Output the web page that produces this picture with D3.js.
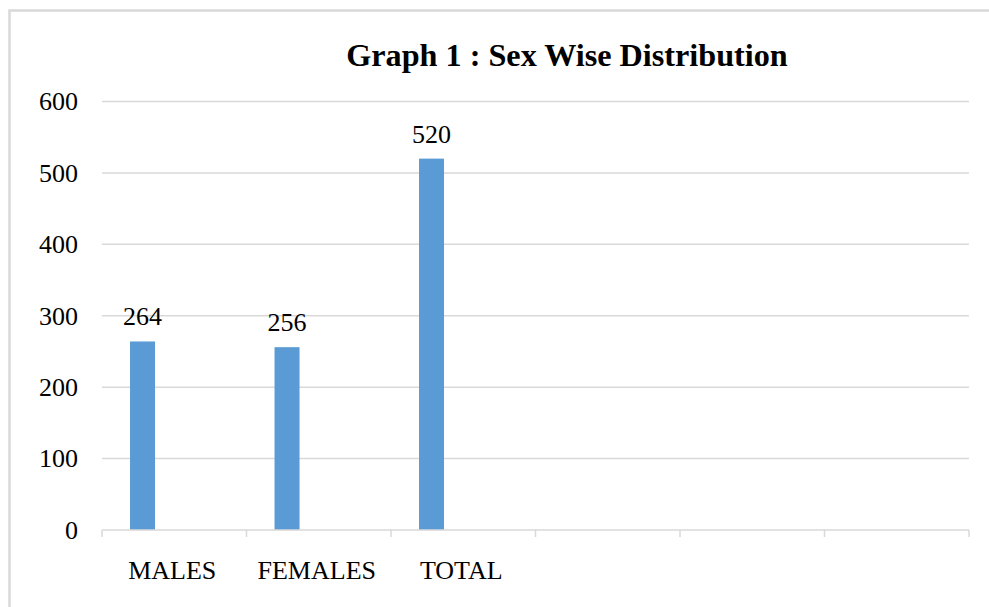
<!DOCTYPE html>
<html>
<head>
<meta charset="utf-8">
<script src="https://cdn.jsdelivr.net/npm/d3@7"></script>
<style>
  html, body { margin: 0; padding: 0; background: #ffffff; }
  svg { display: block; }
  text { font-family: "Liberation Serif", "Times New Roman", serif; fill: #000; }
</style>
</head>
<body>
<svg id="chart" width="989" height="607"></svg>
<script>
// ---- data ----
const categories = ["MALES", "FEMALES", "TOTAL", "", " ", "  "];
const values = [264, 256, 520, null, null, null];
const yTicks = [0, 100, 200, 300, 400, 500, 600];
const titleText = "Graph 1 : Sex Wise Distribution";

// ---- layout ----
const W = 989, H = 607;
const plot = { left: 102, right: 969, top: 101.5, bottom: 530 };

const svg = d3.select("#chart");

// outer chart border (cropped on right/bottom in reference)
svg.append("rect")
  .attr("x", 9.5).attr("y", 10.5)
  .attr("width", W + 20).attr("height", H + 20)
  .attr("fill", "#fff")
  .attr("stroke", "#d9d9d9").attr("stroke-width", 2.5);

const x = d3.scaleBand().domain(categories).range([plot.left, plot.right]).padding(0);
const y = d3.scaleLinear().domain([0, 600]).range([plot.bottom, plot.top]);

// gridlines
svg.append("g")
  .selectAll("line")
  .data(yTicks.filter(d => d > 0))
  .join("line")
  .attr("x1", plot.left).attr("x2", plot.right)
  .attr("y1", d => y(d)).attr("y2", d => y(d))
  .attr("stroke", "#d9d9d9").attr("stroke-width", 1.5);

// y axis labels
const yAxis = d3.axisLeft(y).tickValues(yTicks).tickSize(0).tickPadding(24);
const gy = svg.append("g").attr("transform", `translate(${plot.left},0)`).call(yAxis);
gy.select(".domain").remove();
gy.selectAll("text")
  .attr("font-family", "Liberation Serif, Times New Roman, serif")
  .attr("font-size", 26).attr("fill", "#000");

// bars
const barOffset = 0.194, barFrac = 0.173;
const data = categories.map((c, i) => ({ c, v: values[i] })).filter(d => d.v != null);
svg.append("g")
  .selectAll("rect")
  .data(data)
  .join("rect")
  .attr("x", d => x(d.c) + x.bandwidth() * barOffset)
  .attr("width", x.bandwidth() * barFrac)
  .attr("y", d => y(d.v))
  .attr("height", d => y(0) - y(d.v))
  .attr("fill", "#5b9bd5");

// data labels
svg.append("g")
  .selectAll("text")
  .data(data)
  .join("text")
  .attr("x", d => x(d.c) + x.bandwidth() * (barOffset + barFrac / 2))
  .attr("y", d => y(d.v) - 16)
  .attr("text-anchor", "middle")
  .attr("font-size", 26)
  .text(d => d.v);

// x axis baseline + ticks
svg.append("line")
  .attr("x1", plot.left).attr("x2", plot.right)
  .attr("y1", plot.bottom).attr("y2", plot.bottom)
  .attr("stroke", "#d9d9d9").attr("stroke-width", 1.5);
const boundaries = categories.map(c => x(c)).concat([plot.right]);
svg.append("g")
  .selectAll("line")
  .data(boundaries)
  .join("line")
  .attr("x1", d => d).attr("x2", d => d)
  .attr("y1", plot.bottom).attr("y2", plot.bottom + 7)
  .attr("stroke", "#d9d9d9").attr("stroke-width", 1.5);

// x labels
svg.append("g")
  .selectAll("text")
  .data(categories.filter(c => c.trim() !== ""))
  .join("text")
  .attr("x", d => x(d) + x.bandwidth() / 2 - 2)
  .attr("y", 579)
  .attr("text-anchor", "middle")
  .attr("font-size", 26)
  .text(d => d);

// title
svg.append("text")
  .attr("x", 567).attr("y", 66)
  .attr("text-anchor", "middle")
  .attr("font-size", 32.2)
  .attr("font-weight", "bold")
  .text(titleText);
</script>
</body>
</html>
